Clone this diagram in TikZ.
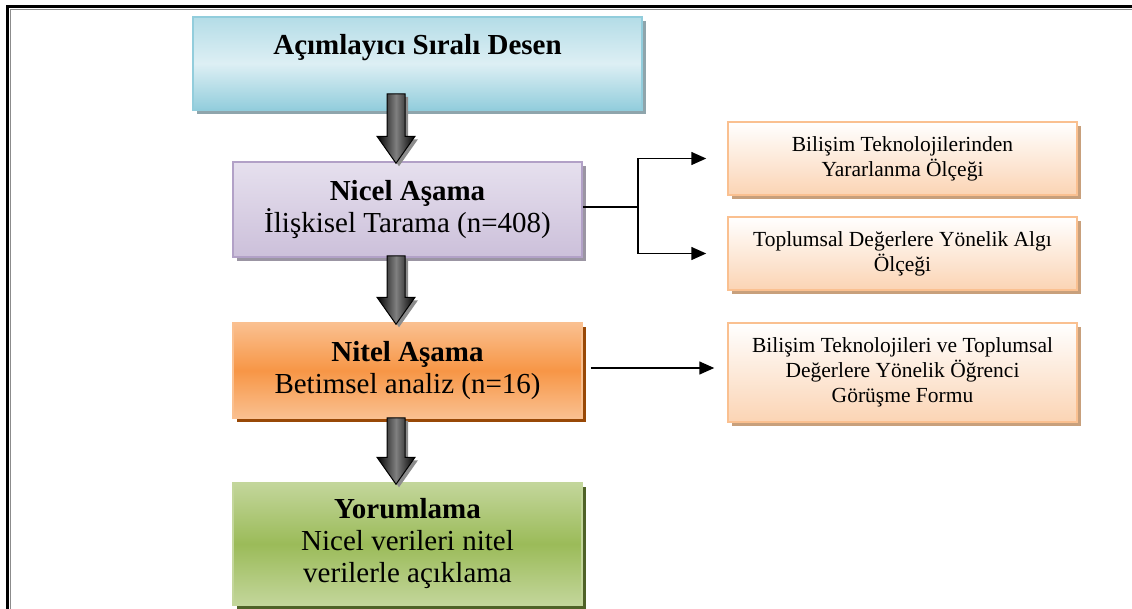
\documentclass[tikz,border=0pt]{standalone}
\usepackage{fontspec}
\setmainfont{Liberation Serif}
\usetikzlibrary{calc,arrows.meta,shadows}
\definecolor{cyanE}{HTML}{92CDDC}
\definecolor{cyanC}{HTML}{DDEFF4}
\definecolor{cyanS}{HTML}{8FA5AC}
\definecolor{lavT}{HTML}{E6E0EE}
\definecolor{lavB}{HTML}{CCC0DA}
\definecolor{lavD}{HTML}{B2A1C7}
\definecolor{lavS}{HTML}{9B95A3}
\definecolor{orL}{HTML}{FAC090}
\definecolor{orM}{HTML}{F79646}
\definecolor{orS}{HTML}{984806}
\definecolor{grL}{HTML}{C3D69B}
\definecolor{grM}{HTML}{9BBB59}
\definecolor{grS}{HTML}{4F6228}
\definecolor{peach}{HTML}{FBD4B4}
\definecolor{peachS}{HTML}{C8A07C}
\tikzset{
  basebox/.style={rectangle, align=center, inner sep=4pt, line width=1.5pt},
  mainbox/.style={basebox, minimum width=349pt, font=\fontsize{29}{32}\selectfont},
  sidebox/.style={basebox, minimum width=349pt, draw=orL, top color=white, bottom color=peach,
    general shadow={fill=peachS, shadow xshift=4pt, shadow yshift=-4pt},
    font=\fontsize{21.5}{25}\selectfont},
  boxone/.style={basebox, minimum width=449pt, minimum height=93pt, draw=cyanE,
    top color=cyanE!55!cyanC, bottom color=cyanE, middle color=cyanC,
    general shadow={fill=cyanS, shadow xshift=4pt, shadow yshift=-4pt}},
  boxtwo/.style={mainbox, minimum height=95pt, draw=lavD, top color=lavT, bottom color=lavB,
    general shadow={fill=lavS, shadow xshift=4pt, shadow yshift=-4pt}},
  boxthree/.style={mainbox, minimum height=95pt, draw=orL, top color=orL, bottom color=orL, middle color=orM,
    general shadow={fill=orS, shadow xshift=4pt, shadow yshift=-4pt}},
  boxfour/.style={mainbox, minimum height=122pt, draw=grL, top color=grL, bottom color=grL, middle color=grM,
    general shadow={fill=grS, shadow xshift=4pt, shadow yshift=-4pt}},
  blockarrow/.style={draw=black, line width=1pt, left color=black, right color=black, middle color=black!50,
    general shadow={fill=black!45, shadow xshift=3pt, shadow yshift=-3pt}},
  conn/.style={line width=1.5pt, draw=black},
  connarrow/.style={conn, -{Triangle[length=15pt,width=13pt]}},
}
\newcommand\blockarr[3]{%
  \coordinate (T#1) at ($(#2.north)+(-11.5,2)$);
  \coordinate (S#1) at ($(#1.south -| T#1)+(0,-#3)$);
  \path[blockarrow] ($(S#1)+(-9,0)$) -- ($(T#1)+(-9,-27)$) -- ($(T#1)+(-19,-27)$)
    -- (T#1) -- ($(T#1)+(19,-27)$) -- ($(T#1)+(9,-27)$)
    -- ($(S#1)+(9,0)$) -- cycle;}
\begin{document}
\begin{tikzpicture}[x=1pt, y=-1pt]
\useasboundingbox (0,0) rectangle (1132,608);
% frame
\draw[black, line width=3pt] (7,640) -- (7,6.5) -- (1160,6.5);
\draw[black!45, line width=1pt] (10,640) -- (10,9.5) -- (1160,9.5);
% main boxes
\node[boxone] (b1) at (417.5,63.5) {};
\node[font=\bfseries\fontsize{29}{32}\selectfont] (t1) at (417.5,48) {Açımlayıcı Sıralı Desen};
\node[boxtwo] (b2) at (407.5,209.5) {\textbf{Nicel Aşama}\\İlişkisel Tarama (n=408)};
\node[boxthree] (b3) at (407.5,370.5) {\textbf{Nitel Aşama}\\Betimsel analiz (n=16)};
\node[boxfour] (b4) at (407.5,544) {\textbf{Yorumlama}\\Nicel verileri nitel\\verilerle açıklama};
% side boxes
\node[sidebox, minimum height=73pt] (r1) at (902.5,158.5) {Bilişim Teknolojilerinden\\Yararlanma Ölçeği};
\node[sidebox, minimum height=73pt] (r2) at (902.5,253.5) {Toplumsal Değerlere Yönelik Algı\\Ölçeği};
\node[sidebox, minimum height=99pt] (r3) at (902.5,372.5) {Bilişim Teknolojileri ve Toplumsal\\Değerlere Yönelik Öğrenci\\Görüşme Formu};
% block arrows
\blockarr{b1}{b2}{17}
\blockarr{b2}{b3}{2}
\blockarr{b3}{b4}{1}
% connectors
\coordinate (j) at (638,207);
\draw[conn] (b2.east |- j) -- (j);
\draw[connarrow, shorten >=21pt] (j) |- (r1.west);
\draw[connarrow, shorten >=21pt] (j) |- (r2.west);
\draw[connarrow, shorten <=8pt, shorten >=13pt] (b3.east |- 0,368) -- (r3.west |- 0,368);
\end{tikzpicture}
\end{document}
